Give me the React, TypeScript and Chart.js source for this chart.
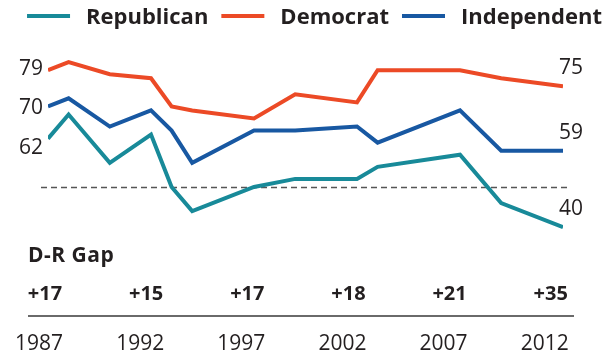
import React, { useEffect, useRef } from "react";
import { Chart, registerables } from "chart.js";

Chart.register(...registerables);

const YEARS = [1987, 1988, 1990, 1992, 1993, 1994, 1997, 1999, 2002, 2003, 2007, 2009, 2012];
const REPUBLICAN = [62, 68, 56, 63, 50, 44, 50, 52, 52, 55, 58, 46, 40];
const DEMOCRAT = [79, 81, 78, 77, 70, 69, 67, 73, 71, 79, 79, 77, 75];
const INDEPENDENT = [70, 72, 65, 69, 64, 56, 64, 64, 65, 61, 69, 59, 59];
const SERIES_NAMES = ["Republican", "Democrat", "Independent"];
const SERIES_COLORS = ["#188a99", "#ec4a26", "#1858a2"];
const LEFT_LABEL_DY = [9, -1, 2];
const GAP_TITLE = "D-R Gap";
const GAP_YEARS = [1987, 1992, 1997, 2002, 2007, 2012];
const GAP_LABELS = ["+17", "+15", "+17", "+18", "+21", "+35"];
const REFERENCE_VALUE = 50;

const FONT = "'Open Sans', sans-serif";
const TEXT = "#231f20";

const annotate = {
  id: "annotate",
  beforeDatasetsDraw(chart: any) {
    const { ctx, chartArea, scales } = chart;
    const y = Math.round(scales.y.getPixelForValue(REFERENCE_VALUE)) + 0.5;
    ctx.save();
    ctx.strokeStyle = "#555555";
    ctx.lineWidth = 1.6;
    ctx.setLineDash([6, 4]);
    ctx.beginPath();
    ctx.moveTo(chartArea.left - 7, y);
    ctx.lineTo(chartArea.right + 7, y);
    ctx.stroke();
    ctx.restore();
  },
  afterDraw(chart: any) {
    const { ctx, chartArea, scales } = chart;
    const xs = scales.x;
    const ys = scales.y;
    ctx.save();
    ctx.fillStyle = TEXT;

    // end labels
    ctx.font = `400 21px ${FONT}`;
    ctx.textBaseline = "middle";
    chart.data.datasets.forEach((ds: any, i: number) => {
      const first = ds.data[0];
      const last = ds.data[ds.data.length - 1];
      ctx.textAlign = "right";
      ctx.fillText(String(first.y), xs.getPixelForValue(first.x) - 5, ys.getPixelForValue(first.y) + LEFT_LABEL_DY[i]);
      ctx.textAlign = "left";
      ctx.fillText(String(last.y), xs.getPixelForValue(last.x) - 4, ys.getPixelForValue(last.y) - 18);
    });

    // legend
    ctx.font = `700 22px ${FONT}`;
    const sample = 43;
    const gapText = 16;
    const gapItem = 13;
    const widths = SERIES_NAMES.map((n) => ctx.measureText(n).width);
    const total = widths.reduce((a, b) => a + b, 0) + SERIES_NAMES.length * (sample + gapText) + (SERIES_NAMES.length - 1) * gapItem;
    let x = 314.5 - total / 2;
    const ly = 16;
    SERIES_NAMES.forEach((name, i) => {
      ctx.fillStyle = SERIES_COLORS[i];
      ctx.fillRect(x, ly - 2, sample, 4);
      x += sample + gapText;
      ctx.fillStyle = TEXT;
      ctx.textAlign = "left";
      ctx.textBaseline = "alphabetic";
      ctx.fillText(name, x, ly + 7.5);
      x += widths[i] + gapItem;
    });

    // D-R gap table
    const left = chartArea.left;
    const mapX = (year: number) => left + (xs.getPixelForValue(year) - left) * 0.982 - 3;
    ctx.fillStyle = TEXT;
    ctx.textBaseline = "alphabetic";
    ctx.textAlign = "left";
    ctx.font = `700 21px ${FONT}`;
    (ctx as any).letterSpacing = "0.5px";
    ctx.fillText(GAP_TITLE, 28, 262);
    (ctx as any).letterSpacing = "0px";
    ctx.textAlign = "center";
    ctx.font = `700 20px ${FONT}`;
    GAP_YEARS.forEach((yr, i) => {
      ctx.fillText(GAP_LABELS[i], mapX(yr), 300);
    });
    ctx.strokeStyle = "#6a6a6a";
    ctx.lineWidth = 2;
    ctx.beginPath();
    ctx.moveTo(28, 316);
    ctx.lineTo(574, 316);
    ctx.stroke();
    ctx.font = `400 21px ${FONT}`;
    GAP_YEARS.forEach((yr) => {
      ctx.fillText(String(yr), mapX(yr) - 6, 350);
    });
    ctx.restore();
  },
};

export default function App() {
  const ref = useRef<HTMLCanvasElement | null>(null);
  useEffect(() => {
    if (!ref.current) return;
    const series = [REPUBLICAN, DEMOCRAT, INDEPENDENT];
    const chart = new Chart(ref.current, {
      type: "line",
      data: {
        datasets: series.map((vals, i) => ({
          label: SERIES_NAMES[i],
          data: YEARS.map((yr, j) => ({ x: yr, y: vals[j] })),
          borderColor: SERIES_COLORS[i],
          backgroundColor: SERIES_COLORS[i],
          borderWidth: 4,
          pointRadius: 0,
          tension: 0,
          fill: false,
        })),
      },
      options: {
        responsive: false,
        animation: false,
        devicePixelRatio: 1,
        layout: { padding: { left: 48, right: 39, top: 46, bottom: 89.5 } },
        scales: {
          x: { type: "linear", min: 1987, max: 2012, display: false },
          y: { type: "linear", min: 30, max: 85, display: false },
        },
        plugins: {
          legend: { display: false },
          tooltip: { enabled: false },
        },
      },
      plugins: [annotate],
    });
    return () => chart.destroy();
  }, []);
  return (
    <div style={{ position: "absolute", left: 0, top: 0, width: 602, height: 357, background: "#fff" }}>
      <canvas ref={ref} width={602} height={357} style={{ display: "block" }} />
    </div>
  );
}
